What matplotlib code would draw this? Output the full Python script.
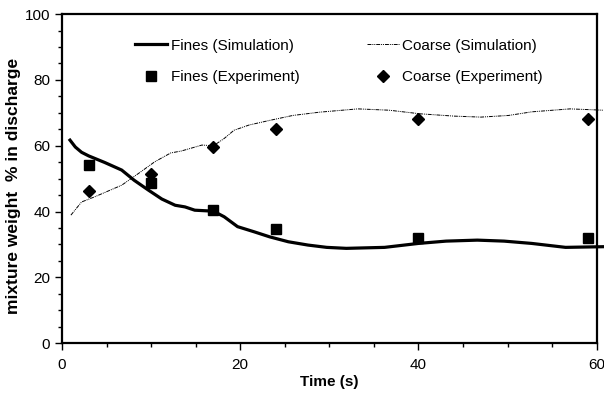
import matplotlib.pyplot as plt
from matplotlib.ticker import MultipleLocator

plt.rcParams['font.family'] = ['Liberation Sans', 'DejaVu Sans']

# simulation curves
t_fines_sim = [0.9, 1.5, 2.2, 3.0, 4.8, 6.7, 8.1, 9.7, 11.2, 12.7, 13.8, 14.9, 17.0, 18.2,
               19.7, 21.6, 23.3, 25.4, 27.6, 29.7, 31.9, 36.2, 40.0, 43.1, 46.6,
               49.6, 52.7, 56.5, 60.7]
fines_sim = [61.7, 59.6, 58.0, 56.9, 54.9, 52.6, 49.5, 46.5, 43.8, 41.9, 41.4, 40.4, 40.1,
             38.4, 35.4, 33.8, 32.3, 30.8, 29.8, 29.1, 28.8, 29.1, 30.3, 31.0, 31.3,
             31.0, 30.3, 29.1, 29.3]

t_coarse_sim = [1.0, 2.2, 3.7, 6.7, 8.6, 10.4, 12.2, 13.4, 15.7, 17.0, 18.2, 19.3,
                21.0, 23.3, 25.9, 28.9, 33.2, 36.7, 40.2, 44.0, 47.0, 50.1, 52.7,
                57.0, 60.7]
coarse_sim = [38.9, 42.9, 44.5, 48.0, 51.6, 55.1, 57.8, 58.4, 60.2, 60.0, 62.2, 64.7,
              66.3, 67.7, 69.2, 70.2, 71.2, 70.8, 69.7, 69.0, 68.7, 69.2, 70.3,
              71.2, 70.8]

# experiments
t_exp = [3, 10, 17, 24, 40, 59]
fines_exp = [54.2, 48.8, 40.5, 34.8, 31.8, 32.0]
coarse_exp = [46.1, 51.5, 59.5, 65.2, 68.1, 68.1]

fig = plt.figure(figsize=(6.04, 3.93), dpi=100)
ax = fig.add_axes([0.1026, 0.127, 0.8854, 0.837])

ax.plot(t_fines_sim, fines_sim, color='black', lw=2.3, clip_on=False,
        solid_joinstyle='round', label='Fines (Simulation)')
ax.plot(t_exp, fines_exp, 's', color='black', ms=7.2, label='Fines (Experiment)')
ax.plot(t_coarse_sim, coarse_sim, color='black', lw=0.7, dashes=(4, 1, 1, 1, 1, 1),
        clip_on=False, label='Coarse (Simulation)')
ax.plot(t_exp, coarse_exp, 'D', color='black', ms=5.8, label='Coarse (Experiment)')

ax.set_xlim(0, 60)
ax.set_ylim(0, 100)
ax.xaxis.set_major_locator(MultipleLocator(20))
ax.xaxis.set_minor_locator(MultipleLocator(5))
ax.yaxis.set_major_locator(MultipleLocator(20))
ax.yaxis.set_minor_locator(MultipleLocator(5))
ax.tick_params(which='both', direction='out', width=1, labelsize=11)
ax.tick_params(which='major', length=5)
ax.tick_params(which='minor', length=3)
ax.tick_params(axis='x', pad=6)
for s in ax.spines.values():
    s.set_linewidth(1.6)

ax.set_xlabel('Time (s)', fontsize=11, fontweight='bold', labelpad=2)
ax.set_ylabel('mixture weight  % in discharge', fontsize=12.5, fontweight='bold')
ax.yaxis.set_label_coords(-0.076, 0.477)

ax.legend(loc='upper left', bbox_to_anchor=(0.136, 0.925), ncol=2, frameon=False,
          fontsize=11, handlelength=2.1, columnspacing=4.4, labelspacing=1.15,
          handletextpad=0.25, borderpad=0, borderaxespad=0)

fig.savefig('out.png', dpi=100)
